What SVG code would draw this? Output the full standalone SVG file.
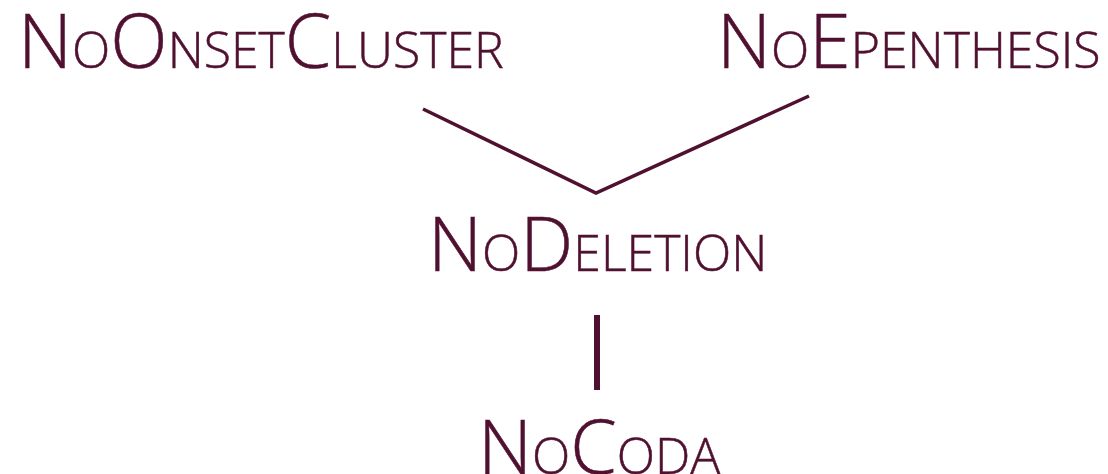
<svg xmlns="http://www.w3.org/2000/svg" width="1108" height="474" viewBox="0 0 1108 474">
<style>
.t{font-family:"Open Sans","Noto Sans","DejaVu Sans",sans-serif;font-weight:300;font-size:75px;fill:#50102f;stroke:#50102f;stroke-width:0.5px}
.s{font-size:50px}
.c{stroke:#50102f;fill:none;stroke-linecap:butt;stroke-linejoin:miter}
</style>
<rect width="1108" height="474" fill="#ffffff"/>
<g id="connectors">
<polyline class="c" stroke-width="3.5" points="423,109 596,193 809,96"/>
<line class="c" stroke-width="6" x1="597" y1="315" x2="597" y2="390"/>
</g>
<g id="NoOnsetCluster"><text class="t" x="18" y="68">N<tspan class="s">O</tspan>O<tspan class="s">NSET</tspan>C<tspan class="s">LUSTER</tspan></text></g>
<g id="NoEpenthesis"><text class="t" x="717" y="68">N<tspan class="s">O</tspan>E<tspan class="s">PENTHESIS</tspan></text></g>
<g id="NoDeletion"><text class="t" x="428" y="271">N<tspan class="s">O</tspan>D<tspan class="s">ELETION</tspan></text></g>
<g id="NoCoda"><text class="t" x="478" y="474">N<tspan class="s">O</tspan>C<tspan class="s">ODA</tspan></text></g>
</svg>
